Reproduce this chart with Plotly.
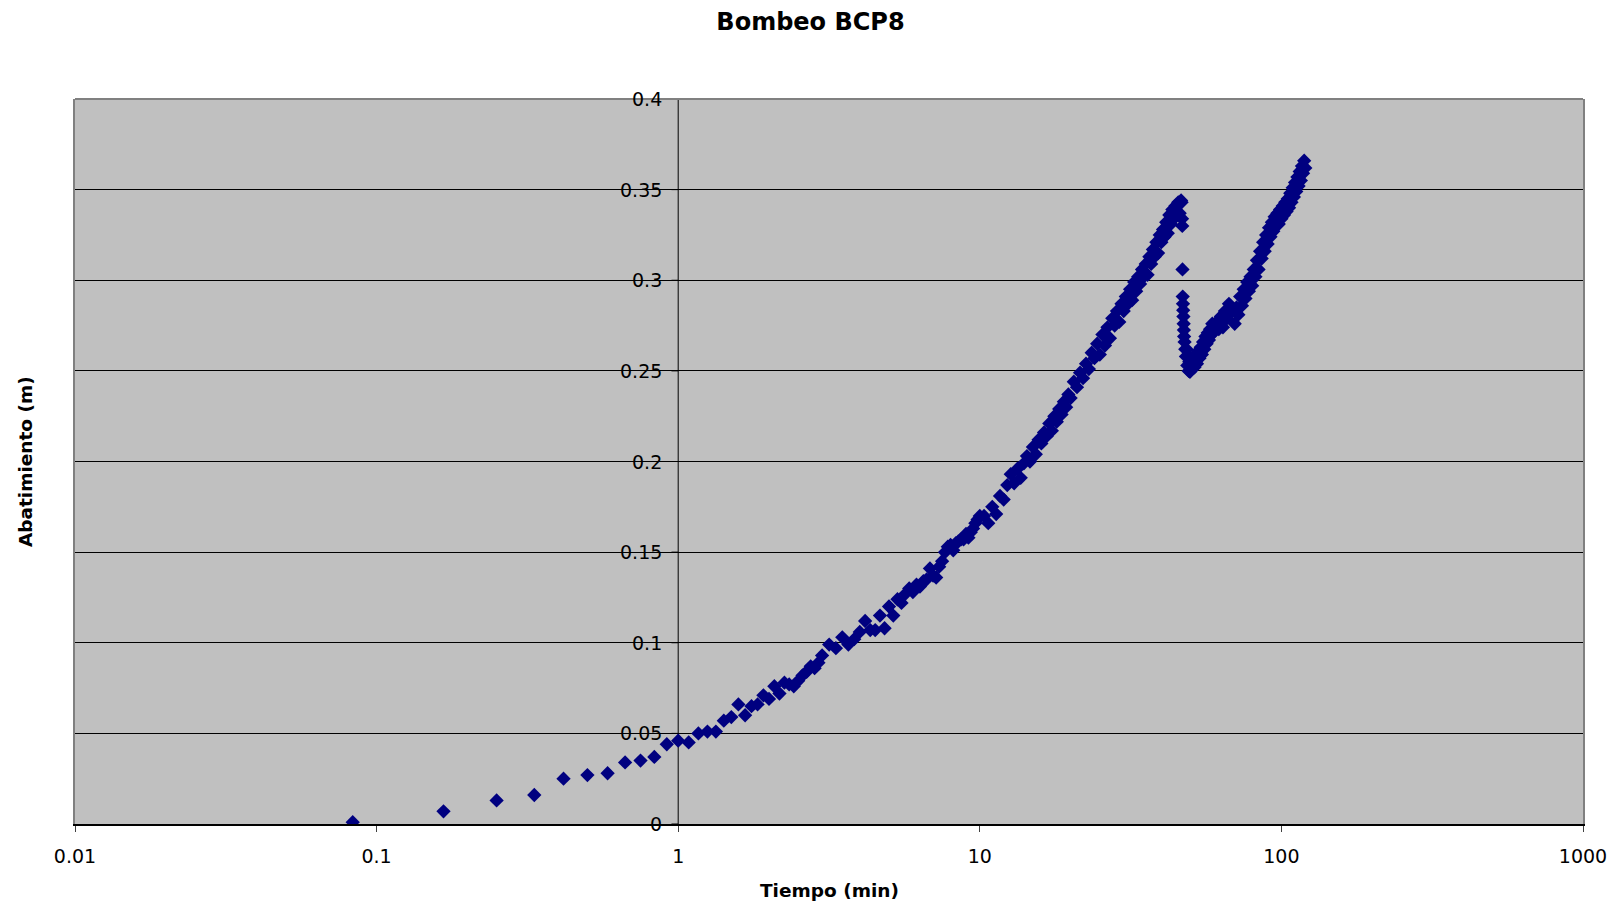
import plotly.graph_objects as go

# Pumping test BCP8: elapsed time (seconds) and drawdown (m)
time_s_early = [5, 10, 15, 20, 25, 30, 35, 40, 45, 50, 55, 60,
                65, 70, 75, 80, 85, 90, 95, 100, 105, 110, 115, 120,
                125, 130, 135, 140, 145, 150, 155, 160, 165, 170, 175, 180]
drawdown_early = [0.001, 0.007, 0.013, 0.016, 0.025, 0.027, 0.028, 0.034, 0.035, 0.037, 0.044, 0.046,
                  0.045, 0.050, 0.051, 0.051, 0.057, 0.059, 0.066, 0.060, 0.065, 0.066, 0.071, 0.069,
                  0.076, 0.072, 0.078, 0.077, 0.076, 0.079, 0.082, 0.084, 0.087, 0.086, 0.089, 0.093]

time_s_mid = [190, 200, 210, 220, 230, 240, 250, 260, 270, 280, 290, 300,
              310, 320, 330, 340, 350, 360, 370, 380, 390, 400, 410, 420,
              430, 440, 450, 460, 470, 480, 490, 500, 510, 520, 530, 540,
              550, 560, 570, 580, 590, 600]
drawdown_mid = [0.099, 0.097, 0.103, 0.099, 0.102, 0.106, 0.112, 0.107, 0.107, 0.115, 0.108, 0.120,
                0.115, 0.124, 0.122, 0.127, 0.130, 0.128, 0.132, 0.131, 0.134, 0.135, 0.141, 0.137,
                0.136, 0.142, 0.145, 0.150, 0.153, 0.154, 0.151, 0.155, 0.156, 0.157, 0.157, 0.160,
                0.158, 0.161, 0.163, 0.166, 0.168, 0.170]

time_s_late = [620, 640, 660, 680, 700, 720, 740, 760, 780, 800, 820, 840,
               860, 880, 900, 920, 940, 960, 980, 1000, 1020, 1040, 1060, 1080,
               1100, 1120, 1140, 1160, 1180, 1200]
drawdown_late = [0.170, 0.166, 0.175, 0.171, 0.181, 0.179, 0.187, 0.193, 0.188, 0.196, 0.191, 0.199,
                 0.203, 0.200, 0.208, 0.204, 0.212, 0.210, 0.216, 0.214, 0.221, 0.217, 0.225, 0.222,
                 0.229, 0.226, 0.233, 0.230, 0.237, 0.235]

time_s_peak = [1230, 1260, 1290, 1320, 1350, 1380, 1410, 1440, 1470, 1500, 1530, 1560,
               1590, 1620, 1650, 1680, 1710, 1740, 1770, 1800, 1830, 1860, 1890, 1920,
               1950, 1980, 2010, 2040, 2070, 2100, 2130, 2160, 2190, 2220, 2250, 2280,
               2310, 2340, 2370, 2400, 2430, 2460, 2490, 2520, 2550, 2580, 2610, 2640,
               2670, 2700, 2730, 2760, 2790, 2800, 2810]
drawdown_peak = [0.244, 0.241, 0.249, 0.246, 0.254, 0.251, 0.260, 0.257, 0.265, 0.259, 0.270, 0.264,
                 0.274, 0.268, 0.279, 0.275, 0.283, 0.277, 0.287, 0.283, 0.291, 0.287, 0.295, 0.289,
                 0.299, 0.294, 0.302, 0.298, 0.306, 0.302, 0.309, 0.303, 0.313, 0.309, 0.317, 0.313,
                 0.321, 0.315, 0.325, 0.321, 0.328, 0.324, 0.332, 0.326, 0.336, 0.331, 0.339, 0.334,
                 0.341, 0.336, 0.343, 0.337, 0.344, 0.343, 0.334]

# Sudden drop after the rate change, then the second rise
time_s_drop = [2815, 2820, 2825, 2830, 2835, 2840, 2845, 2850, 2855, 2865, 2880, 2895,
               2910, 2925, 2940, 2955, 2970, 2985, 3000, 3030, 3060, 3090, 3120, 3150,
               3180, 3210, 3240, 3270, 3300, 3330, 3360, 3390, 3420, 3450, 3480, 3510,
               3540, 3570, 3600]
drawdown_drop = [0.330, 0.306, 0.291, 0.287, 0.2835, 0.280, 0.276, 0.2725, 0.269, 0.266, 0.262, 0.258,
                 0.262, 0.253, 0.258, 0.250, 0.255, 0.2495, 0.256, 0.251, 0.258, 0.252, 0.259, 0.254,
                 0.261, 0.257, 0.263, 0.259, 0.266, 0.262, 0.269, 0.265, 0.271, 0.267, 0.273, 0.270,
                 0.276, 0.271, 0.275]

time_s_rise = [3660, 3720, 3780, 3840, 3900, 3960, 4020, 4080, 4140, 4200, 4260, 4320,
               4380, 4440, 4500, 4560, 4620, 4680, 4740, 4800, 4860, 4920, 4980, 5040,
               5100, 5160, 5220, 5280, 5340, 5400, 5460, 5520, 5580, 5640, 5700, 5760,
               5820, 5880, 5940, 6000, 6060, 6120, 6180, 6240, 6300, 6360, 6420, 6480,
               6540, 6600, 6660, 6720, 6780, 6840, 6900, 6960, 7020, 7080, 7140, 7200]
drawdown_rise = [0.277, 0.273, 0.280, 0.274, 0.283, 0.279, 0.287, 0.283, 0.283, 0.276, 0.285, 0.281,
                 0.291, 0.286, 0.295, 0.290, 0.299, 0.294, 0.302, 0.297, 0.306, 0.302, 0.311, 0.306,
                 0.316, 0.312, 0.321, 0.316, 0.325, 0.320, 0.329, 0.324, 0.332, 0.327, 0.335, 0.330,
                 0.337, 0.331, 0.339, 0.334, 0.341, 0.336, 0.343, 0.338, 0.345, 0.340, 0.348, 0.343,
                 0.351, 0.346, 0.354, 0.349, 0.357, 0.352, 0.360, 0.355, 0.363, 0.359, 0.366, 0.362]

x_tick_vals = [0.01, 0.1, 1, 10, 100, 1000]
x_tick_text = ["0.01", "0.1", "1", "10", "100", "1000"]
y_tick_vals = [0, 0.05, 0.1, 0.15, 0.2, 0.25, 0.3, 0.35, 0.4]
y_tick_text = ["0", "0.05", "0.1", "0.15", "0.2", "0.25", "0.3", "0.35", "0.4"]

time_s = time_s_early + time_s_mid + time_s_late + time_s_peak + time_s_drop + time_s_rise
drawdown = drawdown_early + drawdown_mid + drawdown_late + drawdown_peak + drawdown_drop + drawdown_rise
time_min = [s / 60.0 for s in time_s]

FONT = "DejaVu Sans"
NAVY = "#000080"

fig = go.Figure()

# vertical axis line crossing the time axis at t = 1 min
fig.add_trace(go.Scatter(
    x=[1, 1], y=[y_tick_vals[0], y_tick_vals[-1]], mode="lines",
    line=dict(color="#000000", width=1), hoverinfo="skip", showlegend=False))

# short tick marks on the left of that line
tick_x, tick_y = [], []
for v in y_tick_vals:
    tick_x += [0.95, 1, None]
    tick_y += [v, v, None]
fig.add_trace(go.Scatter(
    x=tick_x, y=tick_y, mode="lines", line=dict(color="#000000", width=1),
    hoverinfo="skip", showlegend=False))

fig.add_trace(go.Scatter(
    x=time_min, y=drawdown, mode="markers",
    marker=dict(symbol="diamond", size=11, color=NAVY, line=dict(width=0)),
    showlegend=False))

# y tick labels sit beside the crossing line
annotations = []
for v, t in zip(y_tick_vals, y_tick_text):
    annotations.append(dict(
        x=0, y=v, xref="x", yref="y", text=t, showarrow=False,
        xanchor="right", yanchor="middle", xshift=-14,
        font=dict(family=FONT, size=19, color="#000000")))

annotations.append(dict(
    x=0.5, y=-0.0924, xref="paper", yref="paper", text="<b>Tiempo (min)</b>",
    showarrow=False, xanchor="center", yanchor="middle",
    font=dict(family=FONT, size=18.5, color="#000000")))
annotations.append(dict(
    x=-0.0328, y=0.5, xref="paper", yref="paper", text="<b>Abatimiento (m)</b>",
    showarrow=False, xanchor="center", yanchor="middle", textangle=-90,
    font=dict(family=FONT, size=18.5, color="#000000")))

fig.update_layout(
    width=1621, height=907,
    margin=dict(l=75, r=38, t=99, b=83),
    paper_bgcolor="#FFFFFF",
    plot_bgcolor="#C0C0C0",
    title=dict(text="<b>Bombeo BCP8</b>", x=0.5, xanchor="center",
               y=1 - 22 / 907, yanchor="middle", yref="container",
               font=dict(family=FONT, size=24, color="#000000")),
    annotations=annotations,
    shapes=[dict(type="line", xref="paper", yref="paper", x0=0, x1=1, y0=1, y1=1,
                 line=dict(color="#808080", width=2))],
    showlegend=False,
)

fig.update_xaxes(
    type="log", range=[-2, 3],
    tickvals=x_tick_vals, ticktext=x_tick_text,
    ticks="outside", ticklen=6, tickcolor="#404040", tickwidth=1,
    ticklabelstandoff=8,
    showgrid=False, zeroline=False,
    showline=True, linecolor="#000000", linewidth=2,
    tickfont=dict(family=FONT, size=19, color="#000000"),
)
fig.update_yaxes(
    range=[0, 0.4], tickvals=y_tick_vals, showticklabels=False,
    showgrid=True, gridcolor="#000000", gridwidth=1,
    zeroline=False, ticks="",
    showline=True, linecolor="#808080", linewidth=2, mirror=True,
)

fig.write_html("out.html", config={"displayModeBar": False})
